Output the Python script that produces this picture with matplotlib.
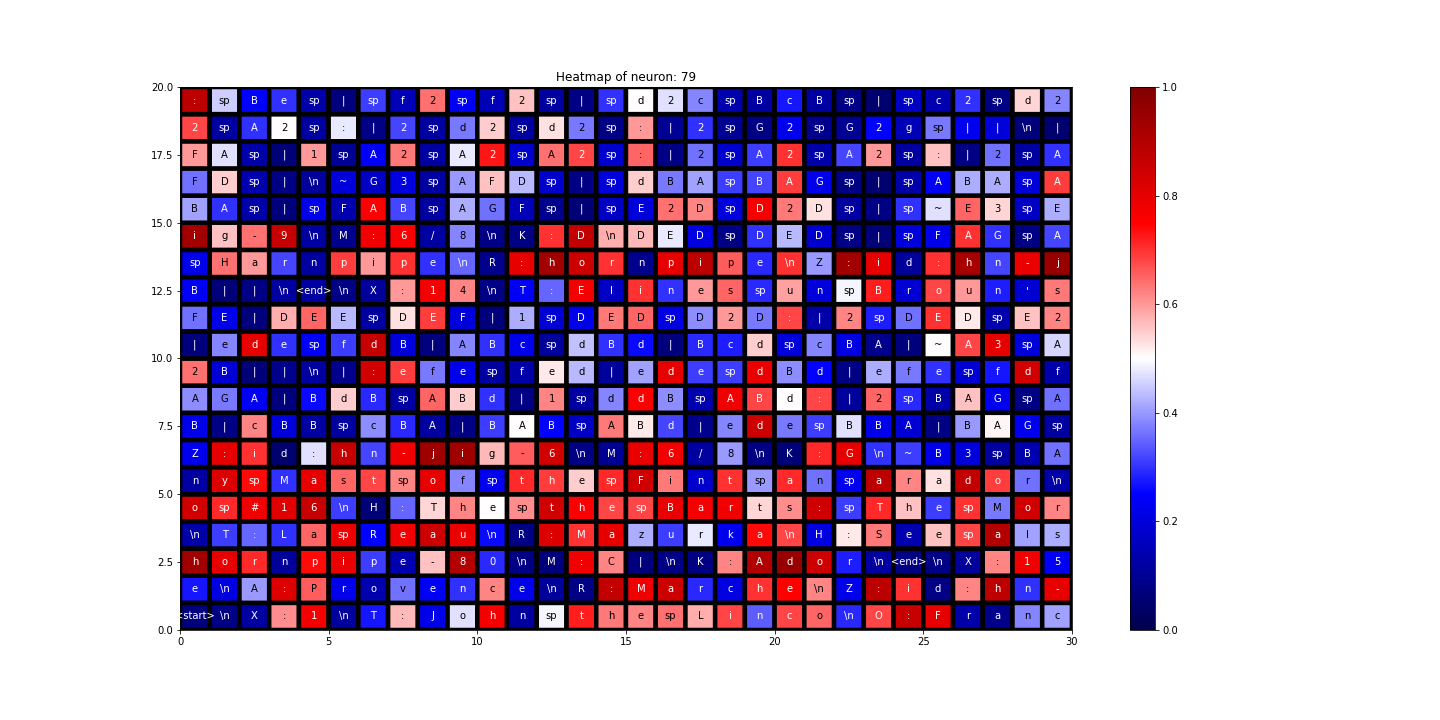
import numpy as np
import matplotlib
matplotlib.use("Agg")
import matplotlib.pyplot as plt

neuron = 79

# labels, top row first
label_rows = [
    r": sp B e sp | sp f 2 sp f 2 sp | sp d 2 c sp B c B sp | sp c 2 sp d 2",
    r"2 sp A 2 sp : | 2 sp d 2 sp d 2 sp : | 2 sp G 2 sp G 2 g sp | | \n |",
    r"F A sp | 1 sp A 2 sp A 2 sp A 2 sp : | 2 sp A 2 sp A 2 sp : | 2 sp A",
    r"F D sp | \n ~ G 3 sp A F D sp | sp d B A sp B A G sp | sp A B A sp A",
    r"B A sp | sp F A B sp A G F sp | sp E 2 D sp D 2 D sp | sp ~ E 3 sp E",
    r"i g - 9 \n M : 6 / 8 \n K : D \n D E D sp D E D sp | sp F A G sp A",
    r"sp H a r n p i p e \n R : h o r n p i p e \n Z : i d : h n - j",
    r"B | | \n <end> \n X : 1 4 \n T : E l i n e s sp u n sp B r o u n ' s",
    r"F E | D E E sp D E F | 1 sp D E D sp D 2 D : | 2 sp D E D sp E 2",
    r"| e d e sp f d B | A B c sp d B d | B c d sp c B A | ~ A 3 sp A",
    r"2 B | | \n | : e f e sp f e d | e d e sp d B d | e f e sp f d f",
    r"A G A | B d B sp A B d | 1 sp d d B sp A B d : | 2 sp B A G sp A",
    r"B | c B B sp c B A | B A B sp A B d | e d e sp B B A | B A G sp",
    r"Z : i d : h n - j i g - 6 \n M : 6 / 8 \n K : G \n ~ B 3 sp B A",
    r"n y sp M a s t sp o f sp t h e sp F i n t sp a n sp a r a d o r \n",
    r"o sp # 1 6 \n H : T h e sp t h e sp B a r t s : sp T h e sp M o r",
    r"\n T : L a sp R e a u \n R : M a z u r k a \n H : S e e sp a l s",
    r"h o r n p i p e - 8 0 \n M : C | \n K : A d o r \n <end> \n X : 1 5",
    r"e \n A : P r o v e n c e \n R : M a r c h e \n Z : i d : h n -",
    r"<start> \n X : 1 \n T : J o h n sp t h e sp L i n c o \n O : F r a n c",
]

# activations, top row first
value_rows = [
    [0.88,0.45,0.25,0.3,0.13,0.07,0.31,0.15,0.64,0.24,0.15,0.56,0.12,0.08,0.3, 0.5,0.47,0.38,0.14,0.12,0.27,0.12,0.08,0.05,0.17,0.14,0.3,0.08,0.54,0.38],
    [0.68,0.12,0.3,0.5,0.12,0.48,0.08,0.32,0.12,0.37,0.55,0.12,0.53,0.37,0.08, 0.6,0.1,0.3,0.1,0.08,0.23,0.09,0.1,0.25,0.15,0.37,0.23,0.2,0.07,0.05],
    [0.6,0.47,0.13,0.06,0.6,0.1,0.24,0.63,0.12,0.48,0.73,0.18,0.64,0.68,0.18, 0.65,0.08,0.36,0.18,0.31,0.7,0.13,0.32,0.6,0.12,0.56,0.08,0.36,0.12,0.3],
    [0.36,0.55,0.14,0.08,0.11,0.2,0.17,0.21,0.12,0.4,0.56,0.43,0.18,0.08,0.2, 0.55,0.37,0.41,0.31,0.32,0.69,0.22,0.08,0.05,0.13,0.24,0.42,0.42,0.2,0.69],
    [0.41,0.3,0.13,0.07,0.22,0.14,0.76,0.32,0.12,0.42,0.36,0.15,0.09,0.06,0.17, 0.2,0.64,0.62,0.2,0.77,0.63,0.53,0.12,0.08,0.3,0.47,0.65,0.54,0.17,0.42],
    [0.93,0.56,0.64,0.86,0.12,0.09,0.78,0.76,0.12,0.38,0.08,0.08,0.7,0.87,0.58, 0.57,0.48,0.21,0.08,0.3,0.43,0.18,0.08,0.06,0.2,0.22,0.7,0.3,0.08,0.32],
    [0.22,0.64,0.6,0.32,0.12,0.69,0.6,0.7,0.3,0.35,0.09,0.8,0.93,0.85,0.7, 0.09,0.8,0.88,0.66,0.29,0.7,0.4,0.93,0.8,0.11,0.7,0.92,0.32,0.79,0.95],
    [0.24,0.06,0.08,0.12,0.12,0.08,0.11,0.6,0.77,0.62,0.08,0.24,0.35,0.77,0.17, 0.7,0.3,0.6,0.65,0.29,0.59,0.2,0.49,0.72,0.19,0.68,0.6,0.28,0.19,0.63],
    [0.36,0.22,0.07,0.58,0.65,0.43,0.12,0.53,0.69,0.2,0.07,0.42,0.19,0.22,0.63, 0.65,0.21,0.39,0.6,0.37,0.68,0.13,0.62,0.28,0.36,0.7,0.52,0.14,0.56,0.62],
    [0.07,0.38,0.8,0.3,0.24,0.31,0.86,0.2,0.07,0.38,0.3,0.22,0.11,0.44,0.3, 0.26,0.07,0.29,0.28,0.55,0.2,0.38,0.21,0.09,0.07,0.5,0.68,0.8,0.2,0.46],
    [0.64,0.19,0.06,0.09,0.12,0.09,0.84,0.69,0.37,0.22,0.12,0.13,0.52,0.43,0.11, 0.41,0.8,0.31,0.31,0.79,0.39,0.25,0.08,0.42,0.37,0.3,0.19,0.27,0.84,0.13],
    [0.39,0.37,0.24,0.07,0.26,0.55,0.29,0.12,0.65,0.55,0.3,0.08,0.62,0.12,0.38, 0.76,0.39,0.14,0.78,0.68,0.5,0.68,0.11,0.65,0.29,0.13,0.56,0.23,0.08,0.36],
    [0.22,0.08,0.62,0.2,0.12,0.12,0.39,0.29,0.12,0.08,0.31,0.5,0.25,0.17,0.63, 0.52,0.32,0.09,0.38,0.85,0.37,0.31,0.47,0.22,0.19,0.08,0.4,0.51,0.23,0.12],
    [0.23,0.8,0.7,0.05,0.47,0.86,0.32,0.78,0.94,0.94,0.57,0.66,0.84,0.08,0.1, 0.79,0.77,0.12,0.4,0.08,0.06,0.71,0.8,0.3,0.31,0.22,0.2,0.12,0.14,0.36],
    [0.12,0.82,0.74,0.3,0.8,0.65,0.68,0.62,0.8,0.38,0.23,0.71,0.69,0.55,0.71, 0.84,0.63,0.18,0.7,0.4,0.71,0.36,0.23,0.88,0.62,0.53,0.87,0.69,0.36,0.13],
    [0.84,0.71,0.78,0.81,0.86,0.31,0.06,0.35,0.54,0.62,0.5,0.61,0.84,0.76,0.68, 0.68,0.79,0.77,0.78,0.54,0.61,0.84,0.31,0.71,0.56,0.31,0.7,0.37,0.84,0.62],
    [0.13,0.31,0.35,0.3,0.65,0.79,0.25,0.78,0.85,0.79,0.26,0.08,0.82,0.7,0.8, 0.42,0.31,0.48,0.23,0.74,0.68,0.21,0.52,0.63,0.14,0.56,0.68,0.9,0.41,0.42],
    [0.93,0.8,0.71,0.11,0.74,0.79,0.31,0.14,0.56,0.9,0.29,0.08,0.07,0.78,0.62, 0.07,0.08,0.08,0.62,0.9,0.95,0.85,0.28,0.12,0.08,0.08,0.11,0.62,0.78,0.24],
    [0.27,0.21,0.4,0.82,0.66,0.22,0.14,0.36,0.24,0.3,0.62,0.22,0.11,0.08,0.87, 0.78,0.85,0.29,0.21,0.7,0.75,0.62,0.22,0.88,0.7,0.08,0.62,0.88,0.3,0.8],
    [0.07,0.08,0.12,0.61,0.77,0.11,0.27,0.57,0.22,0.47,0.77,0.12,0.49,0.72,0.63, 0.62,0.64,0.58,0.68,0.34,0.68,0.65,0.29,0.68,0.86,0.8,0.13,0.09,0.38,0.41],
]

labels = [r.split() for r in label_rows][::-1]  # bottom row first
vals = np.array(value_rows)[::-1]

fig = plt.figure(figsize=(20, 10), dpi=72)
ax = fig.add_axes([0.125, 0.125, 0.6194, 0.7542])
cax = fig.add_axes([0.7847, 0.125, 0.0174, 0.7542])

mesh = ax.pcolor(vals, cmap="seismic", vmin=0, vmax=1, edgecolors="k", linewidths=4.5)
for i in range(vals.shape[0]):
    for j in range(vals.shape[1]):
        v = vals[i, j]
        col = "black" if 0.35 < v < 0.67 else "white"
        ax.text(j + 0.5, i + 0.5, labels[i][j], ha="center", va="center",
                color=col, fontsize=10)

ax.set_xlim(0, 30)
ax.set_ylim(0, 20)
ax.set_xticks([0, 5, 10, 15, 20, 25, 30])
ax.set_yticks(np.arange(0, 20.1, 2.5))
ax.set_title("Heatmap of neuron: %d" % neuron)
fig.colorbar(mesh, cax=cax)

fig.savefig("out.png", dpi=72)
